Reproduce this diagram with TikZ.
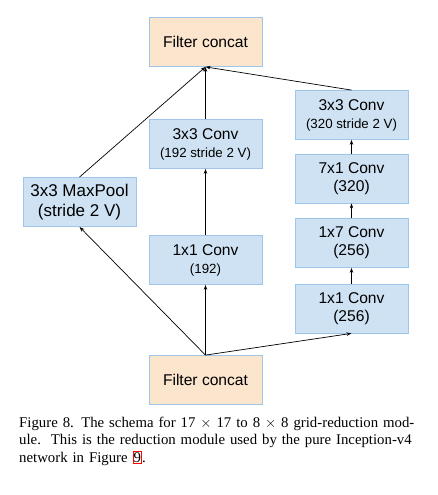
\documentclass[tikz,border=0pt]{standalone}
\usepackage{fontspec}
\setmainfont{Liberation Serif}
\newfontfamily\arialfont{Liberation Sans}
\usepackage{tikz}
\usetikzlibrary{shapes}
\usetikzlibrary{arrows.meta}
\usetikzlibrary{positioning}
\definecolor{bleu}{HTML}{CFE2F3}
\definecolor{peche}{HTML}{FCE5CD}
\definecolor{bord}{HTML}{9FC5E8}
\tikzstyle{bloc}=[
        draw=bord,
        line width=0.8pt,
        rectangle,
        minimum width=113pt,
        minimum height=49pt,
        inner sep=0pt,
        align=center,
        fill=bleu,
        font=\arialfont\fontsize{15.6}{18}\selectfont
]
\tikzstyle{concat}=[bloc,fill=peche]
\tikzstyle{suite}=[-{Stealth[length=5pt,width=3.5pt]},line width=0.7pt,black]
\newcommand{\petit}[1]{{\fontsize{13.3}{16}\selectfont #1}}
\newcommand{\ligne}[1]{\hbox to 393pt{#1}}

\begin{document}
\begin{tikzpicture}[x=1pt,y=-1pt]
\useasboundingbox (0,0) rectangle (437,495);
\node[concat] (haut) at (205.5,42) {Filter concat};
\node[concat] (bas) at (205.5,380) {Filter concat};
\node[bloc,font=\arialfont\fontsize{17}{19.5}\selectfont] (pool) at (79.5,202) {3x3 MaxPool\\(stride 2 V)};
\node[bloc] (m1) at (205.5,260) {1x1 Conv\\\petit{(192)}};
\node[bloc] (m3) at (205.5,144) {3x3 Conv\\\petit{(192 stride 2 V)}};
\node[bloc] (d1) at (351.5,308.5) {1x1 Conv\\(256)};
\node[bloc] (d17) at (351.5,243) {1x7 Conv\\(256)};
\node[bloc] (d71) at (351.5,178.5) {7x1 Conv\\(320)};
\node[bloc] (d3) at (351.5,115) {3x3 Conv\\\petit{(320 stride 2 V)}};
\node[anchor=base west,inner sep=0pt,text width=393pt,
      font=\fontsize{14.8}{17.5}\selectfont] (legende) at (19,427)
  {\ligne{Figure 8. The schema for 17 $\times$ 17 to 8 $\times$ 8 grid-reduction mod-}
   \ligne{ule.\ \ This is the reduction module used by the pure Inception-v4}
   \hbox{network in Figure {\setlength{\fboxsep}{0.4pt}\setlength{\fboxrule}{0.6pt}\color{red}\fbox{\color{black}9}}.}};
%fleches
\draw[suite] (bas.north) -- (pool.south);
\draw[suite] (bas.north) -- (m1.south);
\draw[suite] (bas.north) -- (d1.south);

\draw[suite] (pool.north) -- (haut.south);

\draw[suite] (m1) -- (m3);
\draw[suite] (m3) -- (haut.south);

\draw[suite] (d1) -- (d17);
\draw[suite] (d17) -- (d71);
\draw[suite] (d71) -- (d3);
\draw[suite] (d3.north) -- (haut.south);

\end{tikzpicture}
\end{document}
